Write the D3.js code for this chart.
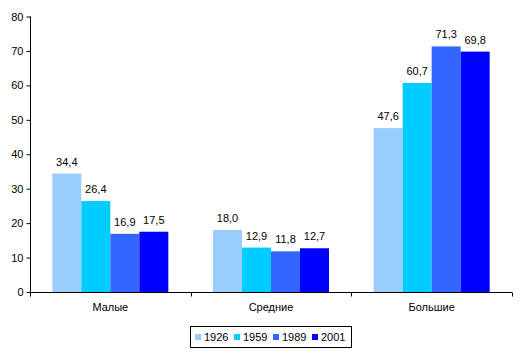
<!DOCTYPE html>
<html><head><meta charset="utf-8">
<script src="https://cdn.jsdelivr.net/npm/d3@7"></script>
<style>body{margin:0;background:#fff}svg{display:block}text{font-family:"Liberation Sans",Arial,sans-serif;font-size:11px;fill:#000}</style>
</head><body><svg id="c" width="519" height="357"></svg>
<script>
const categories = ["Малые", "Средние", "Большие"];
const seriesNames = ["1926", "1959", "1989", "2001"];
const values1926 = [34.4, 18.0, 47.6];
const values1959 = [26.4, 12.9, 60.7];
const values1989 = [16.9, 11.8, 71.3];
const values2001 = [17.5, 12.7, 69.8];
const yTicks = [0, 10, 20, 30, 40, 50, 60, 70, 80];
const colors = ["#99ccff", "#00ccff", "#3366ff", "#0000ff"];
const series = [values1926, values1959, values1989, values2001];

(function () {
const svg = d3.select("#c");
const pLeft = 30, pRight = 512, pTop = 16.5, pBottom = 292;
const x = d3.scaleBand().domain(categories).range([pLeft, pRight]).paddingInner(0).paddingOuter(0);
const y = d3.scaleLinear().domain([0, 80]).range([pBottom, pTop]);
const barW = 29;
const groupPad = (x.bandwidth() - barW * 4) / 2;

series.forEach((vals, si) => {
  const g = svg.append("g");
  g.selectAll("rect").data(vals).enter().append("rect")
    .attr("x", (d, i) => x(categories[i]) + groupPad + si * barW)
    .attr("y", d => y(d))
    .attr("width", barW)
    .attr("height", d => pBottom - y(d))
    .attr("fill", colors[si]);
  g.selectAll("text").data(vals).enter().append("text")
    .attr("x", (d, i) => x(categories[i]) + groupPad + si * barW + barW / 2)
    .attr("y", d => y(d) - 8)
    .attr("text-anchor", "middle")
    .text(d => d.toFixed(1).replace(".", ","));
});

const yAxis = d3.axisLeft(y).tickValues(yTicks).tickSize(4).tickPadding(3).tickFormat(d3.format("d"));
const ya = svg.append("g").attr("transform", `translate(${pLeft + 0.5},0)`).call(yAxis);
ya.select(".domain").attr("d", `M0,${pTop}V${pBottom}`).attr("stroke", "#000");
ya.selectAll("text").style("font-size", "11px").style("font-family", "Liberation Sans, Arial, sans-serif");

const xa = svg.append("g").attr("transform", `translate(0,${pBottom + 0.5})`);
xa.append("line").attr("x1", pLeft).attr("x2", pRight).attr("stroke", "#000");
const xTickPos = [pLeft].concat(categories.map(c => x(c) + x.bandwidth()));
xa.selectAll("line.t").data(xTickPos).enter().append("line").attr("class", "t")
  .attr("x1", d => Math.round(d) + 0.5).attr("x2", d => Math.round(d) + 0.5).attr("y1", 0).attr("y2", 4).attr("stroke", "#000");
xa.selectAll("text").data(categories).enter().append("text")
  .attr("x", d => x(d) + x.bandwidth() / 2).attr("y", 18).attr("text-anchor", "middle").text(d => d);

const lg = svg.append("g");
lg.append("rect").attr("x", 190.5).attr("y", 326.5).attr("width", 161).attr("height", 21).attr("fill", "#fff").attr("stroke", "#000");
const itemX = [195, 234, 273, 312];
seriesNames.forEach((n, i) => {
  lg.append("rect").attr("x", itemX[i]).attr("y", 334).attr("width", 6).attr("height", 6).attr("fill", colors[i]);
  lg.append("text").attr("x", itemX[i] + 9).attr("y", 341).text(n);
});
})();
</script></body></html>
